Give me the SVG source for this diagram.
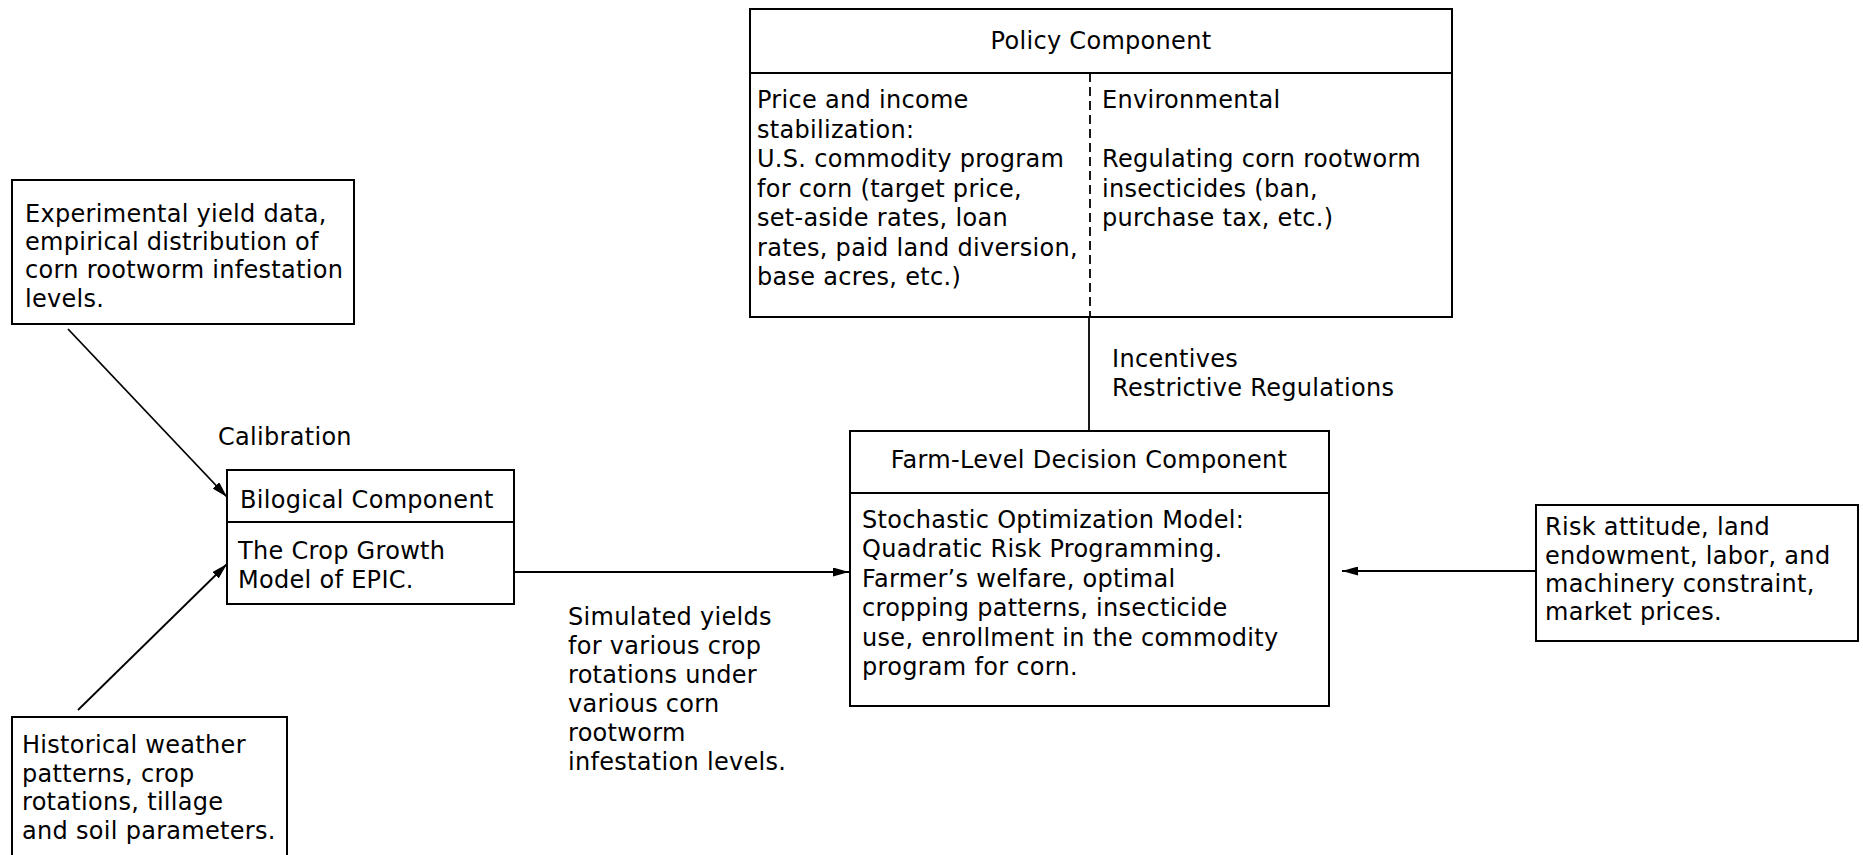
<svg xmlns="http://www.w3.org/2000/svg" width="1863" height="855" viewBox="0 0 1863 855">
<style>
  .box { fill: none; stroke: #000; stroke-width: 2; }
  .line { fill: none; stroke: #000; stroke-width: 1.8; }
  .dash { fill: none; stroke: #000; stroke-width: 1.8; stroke-dasharray: 9 5; }
  text { font-family: "DejaVu Sans", "Liberation Sans", sans-serif; font-size: 24px; letter-spacing: 0.3px; fill: #000; }
  .c { text-anchor: middle; }
</style>
<defs>
  <marker id="arr" viewBox="0 0 16 9" refX="16" refY="4.5" markerWidth="16" markerHeight="9" markerUnits="userSpaceOnUse" orient="auto">
    <path d="M0,0 L16,4.5 L0,9 Z" fill="#000"/>
  </marker>
</defs>
<rect width="1863" height="855" fill="#fff"/>

<g id="connectors">
  <line class="line" x1="1089" y1="317" x2="1089" y2="431"/>
  <line class="line" x1="68" y1="329" x2="227" y2="497" marker-end="url(#arr)"/>
  <line class="line" x1="78" y1="710" x2="227" y2="564" marker-end="url(#arr)"/>
  <line class="line" x1="513" y1="572" x2="849" y2="572" marker-end="url(#arr)"/>
  <line class="line" x1="1536" y1="571" x2="1342" y2="571" marker-end="url(#arr)"/>
</g>

<g id="policy">
  <rect class="box" x="750" y="9" width="702" height="308"/>
  <line class="box" x1="750" y1="73" x2="1452" y2="73"/>
  <line class="dash" x1="1090" y1="73" x2="1090" y2="317"/>
  <text class="c" x="1101" y="49">Policy Component</text>
  <text x="757" y="108">Price and income</text>
  <text x="757" y="137.5">stabilization:</text>
  <text x="757" y="167">U.S. commodity program</text>
  <text x="757" y="196.5">for corn (target price,</text>
  <text x="757" y="226">set-aside rates, loan</text>
  <text x="757" y="255.5">rates, paid land diversion,</text>
  <text x="757" y="285">base acres, etc.)</text>
  <text x="1102" y="108">Environmental</text>
  <text x="1102" y="167">Regulating corn rootworm</text>
  <text x="1102" y="196.5">insecticides (ban,</text>
  <text x="1102" y="226">purchase tax, etc.)</text>
</g>

<g id="incentives-label">
  <text x="1112" y="367">Incentives</text>
  <text x="1112" y="396">Restrictive Regulations</text>
</g>

<g id="farm">
  <rect class="box" x="850" y="431" width="479" height="275"/>
  <line class="box" x1="850" y1="493" x2="1329" y2="493"/>
  <text class="c" x="1089" y="468">Farm-Level Decision Component</text>
  <text x="862" y="528">Stochastic Optimization Model:</text>
  <text x="862" y="557">Quadratic Risk Programming.</text>
  <text x="862" y="587">Farmer’s welfare, optimal</text>
  <text x="862" y="616">cropping patterns, insecticide</text>
  <text x="862" y="646">use, enrollment in the commodity</text>
  <text x="862" y="675">program for corn.</text>
</g>

<g id="experimental">
  <rect class="box" x="12" y="180" width="342" height="144"/>
  <text x="25" y="222">Experimental yield data,</text>
  <text x="25" y="250">empirical distribution of</text>
  <text x="25" y="278">corn rootworm infestation</text>
  <text x="25" y="307">levels.</text>
</g>

<g id="calibration-label">
  <text x="218" y="445">Calibration</text>
</g>

<g id="biological">
  <rect class="box" x="227" y="470" width="287" height="134"/>
  <line class="box" x1="227" y1="522" x2="514" y2="522"/>
  <text x="240" y="508">Bilogical Component</text>
  <text x="238" y="559">The Crop Growth</text>
  <text x="238" y="588">Model of EPIC.</text>
</g>

<g id="historical">
  <path class="box" d="M12,856 L12,717 L287,717 L287,856"/>
  <text x="22" y="753">Historical weather</text>
  <text x="22" y="782">patterns, crop</text>
  <text x="22" y="810">rotations, tillage</text>
  <text x="22" y="839">and soil parameters.</text>
</g>

<g id="simulated-label">
  <text x="568" y="625">Simulated yields</text>
  <text x="568" y="654">for various crop</text>
  <text x="568" y="683">rotations under</text>
  <text x="568" y="712">various corn</text>
  <text x="568" y="741">rootworm</text>
  <text x="568" y="770">infestation levels.</text>
</g>

<g id="risk">
  <rect class="box" x="1536" y="505" width="322" height="136"/>
  <text x="1545" y="535">Risk attitude, land</text>
  <text x="1545" y="564">endowment, labor, and</text>
  <text x="1545" y="592">machinery constraint,</text>
  <text x="1545" y="620">market prices.</text>
</g>
</svg>
